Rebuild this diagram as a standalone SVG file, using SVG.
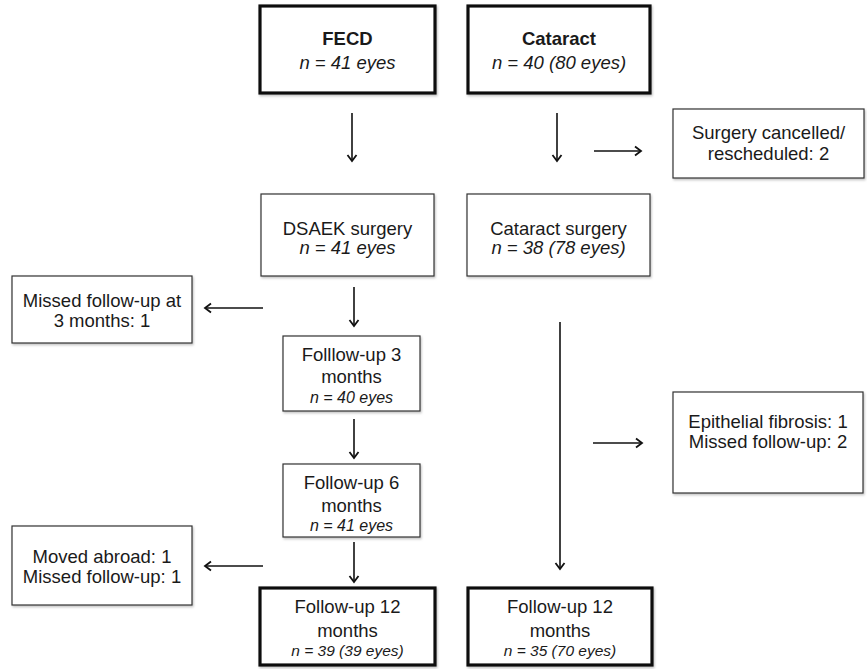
<svg xmlns="http://www.w3.org/2000/svg" width="867" height="669" viewBox="0 0 867 669">
<defs>
<marker id="ah" markerWidth="12" markerHeight="12" refX="9" refY="6" orient="auto" markerUnits="userSpaceOnUse">
<path d="M3,1.5 L9,6 L3,10.5" fill="none" stroke="#111" stroke-width="1.8"/>
</marker>
<filter id="sh" x="-5%" y="-5%" width="115%" height="120%">
<feDropShadow dx="1" dy="1.5" stdDeviation="1" flood-color="#000" flood-opacity="0.25"/>
</filter>
</defs>
<style>
.thin{fill:#fff;stroke:#333;stroke-width:1.2;filter:url(#sh)}
.thick{fill:#fff;stroke:#111;stroke-width:3.2;filter:url(#sh)}
text{font-family:"Liberation Sans",Arial,sans-serif;font-size:18.5px;fill:#1a1a1a;text-anchor:middle}
.b{font-weight:bold}
.i{font-style:italic}
.s{font-size:16px}
.s2{font-size:15.5px}
.c{fill:none;stroke:#111;stroke-width:1.6;marker-end:url(#ah)}
</style>
<rect width="867" height="669" fill="#fff"/>
<g id="fecd">
<rect class="thick" x="260" y="6" width="175" height="87"/>
<text class="b" x="347.5" y="45">FECD</text>
<text class="i" x="347.5" y="69">n = 41 eyes</text>
</g>
<g id="cataract">
<rect class="thick" x="468" y="6" width="182" height="87"/>
<text class="b" x="559" y="45">Cataract</text>
<text class="i" x="559" y="69">n = 40 (80 eyes)</text>
</g>
<g id="cancelled">
<rect class="thin" x="673" y="109" width="191" height="69"/>
<text x="768.5" y="139">Surgery cancelled/</text>
<text x="768.5" y="160">rescheduled: 2</text>
</g>
<g id="dsaek">
<rect class="thin" x="261" y="194" width="173" height="82"/>
<text x="347.5" y="235">DSAEK surgery</text>
<text class="i" x="347.5" y="254">n = 41 eyes</text>
</g>
<g id="catsurg">
<rect class="thin" x="467" y="194" width="183" height="82"/>
<text x="558.5" y="235">Cataract surgery</text>
<text class="i" x="558.5" y="254">n = 38 (78 eyes)</text>
</g>
<g id="missed3">
<rect class="thin" x="12" y="276" width="180" height="67"/>
<text x="102" y="307">Missed follow-up at</text>
<text x="102" y="327">3 months: 1</text>
</g>
<g id="fu3">
<rect class="thin" x="283" y="336" width="137" height="75"/>
<text x="351.5" y="361">Folllow-up 3</text>
<text x="351.5" y="383">months</text>
<text class="i s" x="351.5" y="403">n = 40 eyes</text>
</g>
<g id="epith">
<rect class="thin" x="673" y="392" width="190" height="101"/>
<text x="768" y="428">Epithelial fibrosis: 1</text>
<text x="768" y="448">Missed follow-up: 2</text>
</g>
<g id="fu6">
<rect class="thin" x="283" y="464" width="137" height="73"/>
<text x="351.5" y="489">Follow-up 6</text>
<text x="351.5" y="512">months</text>
<text class="i s" x="351.5" y="531">n = 41 eyes</text>
</g>
<g id="moved">
<rect class="thin" x="12" y="526" width="180" height="79"/>
<text x="102" y="563">Moved abroad: 1</text>
<text x="102" y="583">Missed follow-up: 1</text>
</g>
<g id="fu12f">
<rect class="thick" x="260" y="588" width="175" height="77"/>
<text x="347.5" y="613">Follow-up 12</text>
<text x="347.5" y="637">months</text>
<text class="i s2" x="347.5" y="656">n = 39 (39 eyes)</text>
</g>
<g id="fu12c">
<rect class="thick" x="468" y="588" width="184" height="77"/>
<text x="560" y="613">Follow-up 12</text>
<text x="560" y="637">months</text>
<text class="i s2" x="560" y="656">n = 35 (70 eyes)</text>
</g>
<g id="connectors">
<line class="c" x1="352" y1="113" x2="352" y2="161"/>
<line class="c" x1="557" y1="113" x2="557" y2="161"/>
<line class="c" x1="594" y1="151" x2="641" y2="151"/>
<line class="c" x1="354" y1="287" x2="354" y2="326"/>
<line class="c" x1="263" y1="308" x2="205" y2="308"/>
<line class="c" x1="354" y1="419" x2="354" y2="458"/>
<line class="c" x1="560" y1="322" x2="560" y2="569"/>
<line class="c" x1="593" y1="443" x2="642" y2="443"/>
<line class="c" x1="354" y1="542" x2="354" y2="582"/>
<line class="c" x1="263" y1="566" x2="205" y2="566"/>
</g>
</svg>
